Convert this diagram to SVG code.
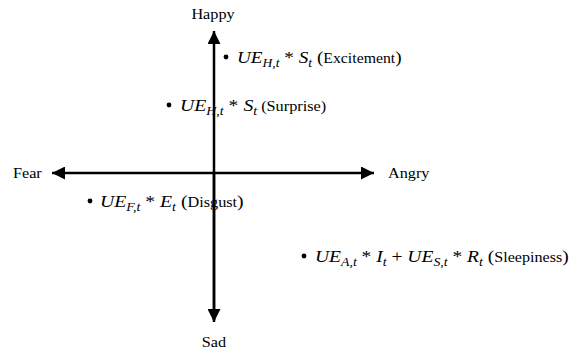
<svg xmlns="http://www.w3.org/2000/svg" width="579" height="351" viewBox="0 0 579 351">
<style>
.lbl{font-family:"Liberation Serif",serif;font-size:15px;fill:#000}
.m{font-family:"Liberation Serif",serif;font-size:17px;font-style:italic;fill:#000}
.sub{font-size:12px}
.up{font-style:normal}
.txt{font-style:normal;font-size:14px}
.ax{stroke:#000;stroke-width:2.5;fill:none}
</style>
<defs>
<marker id="ah" viewBox="0 0 10 10" refX="10" refY="5" markerWidth="5.6" markerHeight="5.2" orient="auto" markerUnits="strokeWidth">
<path d="M0,0 L10,5 L0,10 z" fill="#000"/>
</marker>
</defs>
<rect width="579" height="351" fill="#fff"/>
<g id="connectors">
<line class="ax" x1="214" y1="320" x2="214" y2="31" marker-end="url(#ah)"/>
<line class="ax" x1="214" y1="173" x2="214" y2="322" marker-end="url(#ah)"/>
<line class="ax" x1="214" y1="173" x2="52" y2="173" marker-end="url(#ah)"/>
<line class="ax" x1="214" y1="173" x2="374" y2="173" marker-end="url(#ah)"/>
</g>
<g id="happy"><text class="lbl" x="213" y="19" text-anchor="middle" transform="matrix(1.08 0 0 1 -17.04 0)">Happy</text></g>
<g id="sad"><text class="lbl" x="214" y="347" text-anchor="middle" transform="matrix(1.08 0 0 1 -17.12 0)">Sad</text></g>
<g id="fear"><text class="lbl" x="13" y="178" transform="matrix(1.08 0 0 1 -1.04 0)">Fear</text></g>
<g id="angry"><text class="lbl" x="388" y="178" transform="matrix(1.08 0 0 1 -31.04 0)">Angry</text></g>
<g id="excitement">
<circle cx="226" cy="57" r="2.4"/>
<text class="m" x="237" y="63" transform="matrix(1.13 0 0 1 -30.81 0)">UE<tspan class="sub" dy="4">H,t</tspan><tspan class="up" dy="-4"> * </tspan>S<tspan class="sub" dy="4">t</tspan><tspan class="up" dy="-4"> (</tspan><tspan class="txt">Excitement</tspan><tspan class="up">)</tspan></text>
</g>
<g id="surprise">
<circle cx="169" cy="105" r="2.4"/>
<text class="m" x="180" y="111" transform="matrix(1.16 0 0 1 -28.8 0)">UE<tspan class="sub" dy="4">H,t</tspan><tspan class="up" dy="-4"> * </tspan>S<tspan class="sub" dy="4">t</tspan><tspan class="txt" dy="-4"> (Surprise)</tspan></text>
</g>
<g id="disgust">
<circle cx="90" cy="201" r="2.4"/>
<text class="m" x="100" y="207" transform="matrix(1.16 0 0 1 -16 0)">UE<tspan class="sub" dy="4">F,t</tspan><tspan class="up" dy="-4"> * </tspan>E<tspan class="sub" dy="4">t</tspan><tspan class="up" dy="-4"> (</tspan><tspan class="txt">Disgust</tspan><tspan class="up">)</tspan></text>
</g>
<g id="sleepiness">
<circle cx="304" cy="256" r="2.4"/>
<text class="m" x="315" y="262" transform="matrix(1.15 0 0 1 -47.25 0)">UE<tspan class="sub" dy="4">A,t</tspan><tspan class="up" dy="-4"> * </tspan>I<tspan class="sub" dy="4">t</tspan><tspan class="up" dy="-4"> +  </tspan>UE<tspan class="sub" dy="4">S,t</tspan><tspan class="up" dy="-4"> * </tspan>R<tspan class="sub" dy="4">t</tspan><tspan class="up" dy="-4"> (</tspan><tspan class="txt">Sleepiness</tspan><tspan class="up">)</tspan></text>
</g>
</svg>
